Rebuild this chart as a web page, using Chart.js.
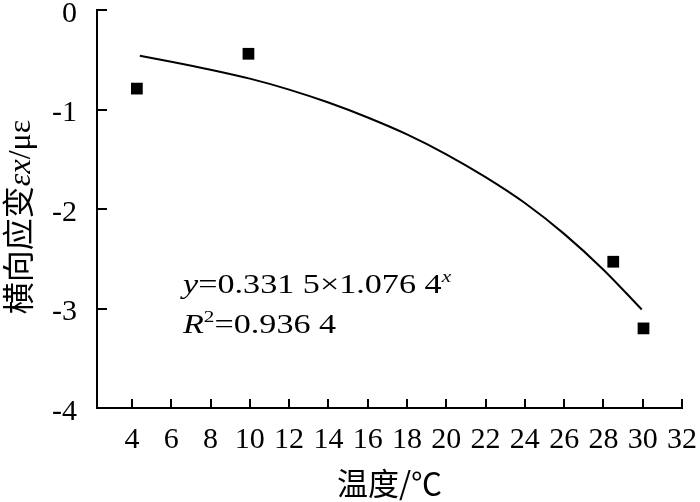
<!DOCTYPE html>
<html lang="zh">
<head>
  <meta charset="UTF-8" />
  <title>横向应变-温度</title>
  <script src="https://cdn.jsdelivr.net/npm/chart.js"></script>
  <style>
    html, body { margin: 0; padding: 0; background: #fff; }
    #wrap { width: 700px; height: 502px; }
  </style>
</head>
<body>
  <div id="wrap"><canvas id="c" width="700" height="502"></canvas></div>
  <script>
    // measured points
    const tempC = [4.25, 9.93, 28.5, 30.04];
    const strain = [-0.79, -0.44, -2.53, -3.20];
    // fitted curve
    const fitX = [4.4, 6, 8, 10, 12, 14, 16, 18, 20, 22, 24, 26, 28, 29.95];
    const fitY = [-0.46, -0.52, -0.60, -0.69, -0.80, -0.93, -1.08, -1.25, -1.45, -1.68, -1.94, -2.25, -2.61, -3.01];
    const xTicks = [4, 6, 8, 10, 12, 14, 16, 18, 20, 22, 24, 26, 28, 30, 32];
    const yTicks = [0, -1, -2, -3, -4];

    const serif = "'Liberation Serif', 'DejaVu Serif', serif";
    const cjk = "'Noto Sans CJK SC', sans-serif";

    // draws a row of text pieces with mixed italic / superscript
    function richText(ctx, x, y, parts, size) {
      let cx = x;
      parts.forEach(p => {
        const fs = p.sup ? size * 0.62 : size;
        const fam = p.cjk ? cjk : serif;
        ctx.font = (p.italic ? 'italic ' : '') + fs + 'px ' + fam;
        ctx.fillText(p.t, cx, p.sup ? y - size * 0.38 : y);
        cx += ctx.measureText(p.t).width;
      });
      return cx - x;
    }
    function richWidth(ctx, parts, size) {
      let w = 0;
      parts.forEach(p => {
        const fs = p.sup ? size * 0.62 : size;
        ctx.font = (p.italic ? 'italic ' : '') + fs + 'px ' + (p.cjk ? cjk : serif);
        w += ctx.measureText(p.t).width;
      });
      return w;
    }

    const decor = {
      id: 'decor',
      afterDraw(chart) {
        const { ctx, chartArea: a, scales: { x, y } } = chart;
        ctx.save();
        ctx.strokeStyle = '#000';
        ctx.lineWidth = 2;
        ctx.beginPath();
        xTicks.forEach(v => {
          const px = Math.round(x.getPixelForValue(v));
          ctx.moveTo(px, a.bottom);
          ctx.lineTo(px, a.bottom - 9);
        });
        yTicks.forEach(v => {
          const py = Math.round(y.getPixelForValue(v));
          ctx.moveTo(a.left, py);
          ctx.lineTo(a.left + 10, py);
        });
        ctx.stroke();

        ctx.fillStyle = '#000';
        ctx.textBaseline = 'alphabetic';
        // equation
        ctx.save();
        ctx.translate(183, 293);
        ctx.scale(1.22, 1);
        richText(ctx, 0, 0, [
          { t: 'y', italic: true },
          { t: '=0.331 5\u00d71.076 4' },
          { t: 'x', italic: true, sup: true }
        ], 28);
        ctx.restore();
        ctx.save();
        ctx.translate(183, 333);
        ctx.scale(1.22, 1);
        richText(ctx, 0, 0, [
          { t: 'R', italic: true },
          { t: '2', sup: true },
          { t: '=0.936 4' }
        ], 28);
        ctx.restore();

        // y axis title
        const yTitle = [
          { t: '横向应变', cjk: true },
          { t: '\u03b5x', italic: true },
          { t: '/\u03bc\u03b5' }
        ];
        const w = richWidth(ctx, yTitle, 32);
        ctx.save();
        ctx.translate(30, 217);
        ctx.rotate(-Math.PI / 2);
        richText(ctx, -w / 2, 0, yTitle, 32);
        ctx.restore();
        ctx.restore();
      }
    };

    new Chart(document.getElementById('c'), {
      type: 'scatter',
      data: {
        datasets: [
          {
            type: 'line',
            data: fitX.map((v, i) => ({ x: v, y: fitY[i] })),
            borderColor: '#000',
            borderWidth: 2,
            pointRadius: 0,
            cubicInterpolationMode: 'monotone',
            fill: false
          },
          {
            data: tempC.map((v, i) => ({ x: v, y: strain[i] })),
            pointStyle: 'rect',
            pointRadius: 8.3,
            backgroundColor: '#000',
            borderColor: '#000',
            borderWidth: 0
          }
        ]
      },
      options: {
        responsive: false,
        animation: false,
        layout: { padding: { top: 10, right: 18, left: 0, bottom: 0 } },
        plugins: { legend: { display: false }, tooltip: { enabled: false } },
        scales: {
          x: {
            type: 'linear',
            min: 2.22,
            max: 32,
            afterBuildTicks: s => { s.ticks = xTicks.map(v => ({ value: v })); },
            afterFit: s => { s.height = 94; s.paddingLeft = 0; s.paddingRight = 0; },
            grid: { drawOnChartArea: false, drawTicks: false },
            border: { display: true, color: '#000', width: 2 },
            ticks: { color: '#000', padding: 14, maxRotation: 0, autoSkip: false, font: { family: serif, size: 30 } },
            title: { display: true, text: '温度/℃', color: '#000', padding: { top: 0, bottom: 0 }, font: { family: cjk, size: 31 } }
          },
          y: {
            type: 'linear',
            min: -4,
            max: 0,
            afterBuildTicks: s => { s.ticks = yTicks.map(v => ({ value: v })); },
            afterFit: s => { s.width = 97; s.paddingTop = 0; s.paddingBottom = 0; },
            grid: { drawOnChartArea: false, drawTicks: false },
            border: { display: true, color: '#000', width: 2 },
            ticks: { color: '#000', padding: 20, labelOffset: 4, font: { family: serif, size: 30 } }
          }
        }
      },
      plugins: [decor]
    });
  </script>
</body>
</html>
